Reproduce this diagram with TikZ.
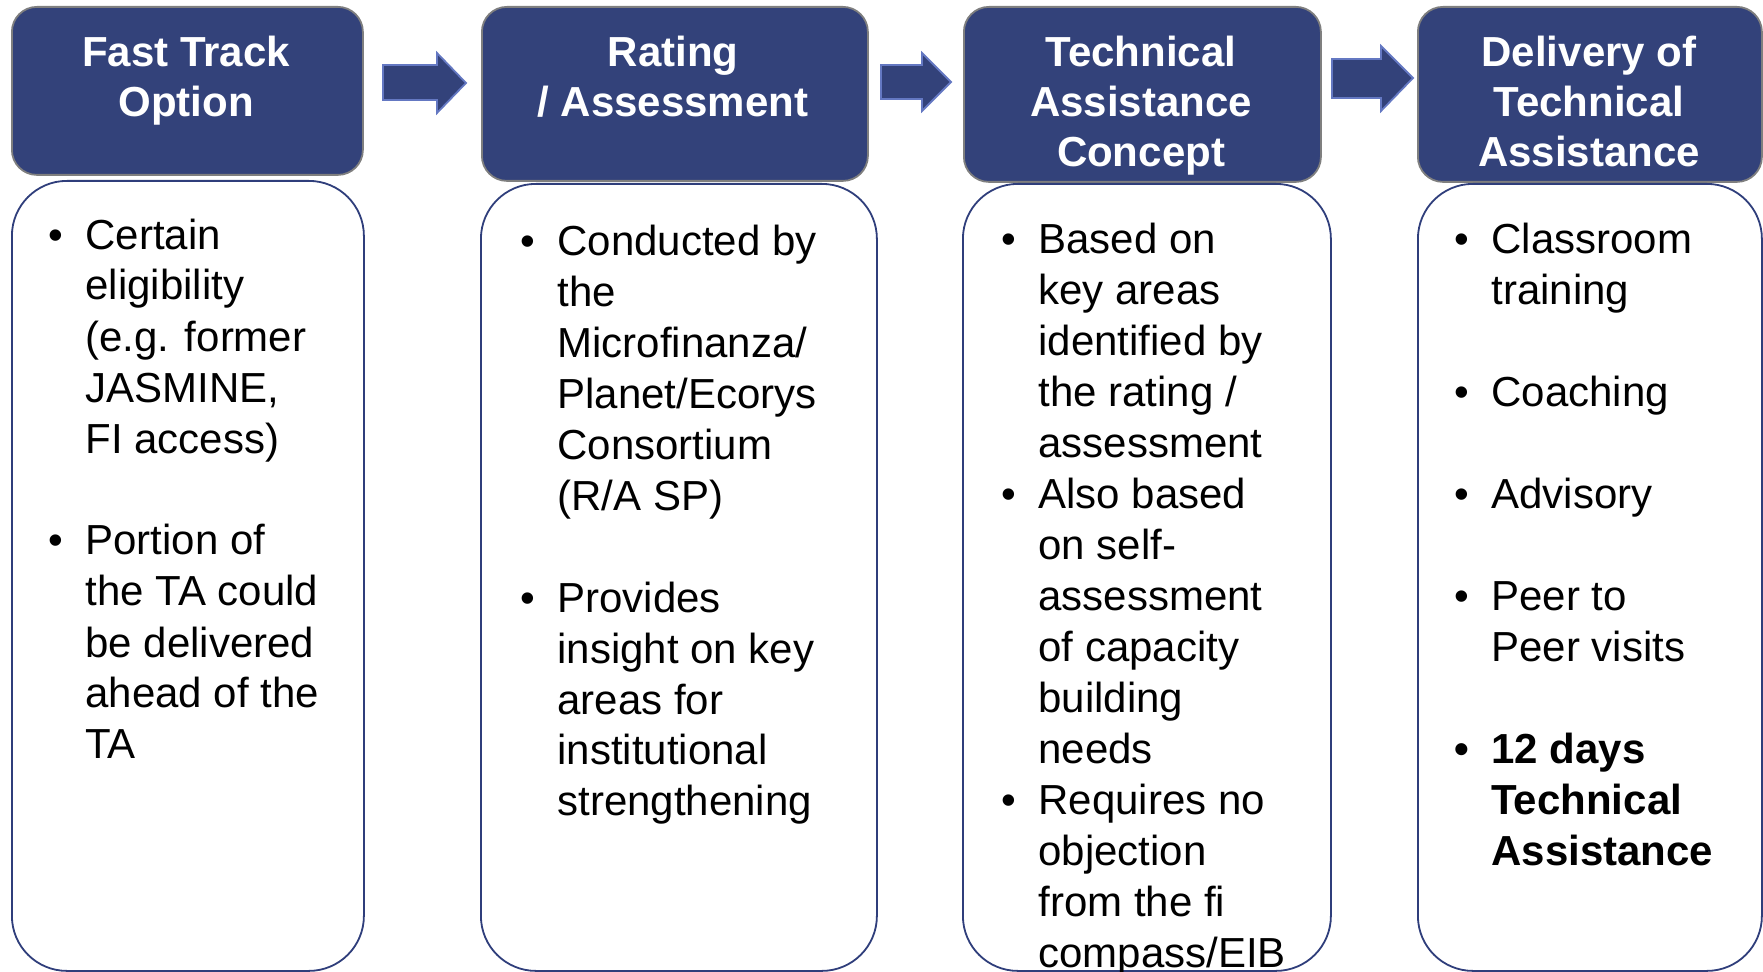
\documentclass[tikz,border=0pt]{standalone}
\usepackage{fontspec}
\setmainfont{Liberation Sans}
\usetikzlibrary{positioning}
\definecolor{tanavy}{HTML}{33427A}
\definecolor{tagray}{HTML}{7F7F7F}
\definecolor{taedge}{HTML}{6478C2}
\definecolor{taline}{HTML}{2F3E7B}
\newcommand{\tabullet}{\llap{\textbullet\hspace{11pt}}}

\begin{document}
\begin{tikzpicture}[
  x=0.5pt, y=-0.5pt,
  head/.style={
    rectangle,
    rounded corners=12.5pt,
    draw=tagray,
    fill=tanavy,
    line width=0.9pt,
    anchor=north west,
    inner sep=0pt
  },
  headtext/.style={
    anchor=base,
    align=center,
    inner sep=0pt,
    text=white,
    font=\fontsize{21}{25}\selectfont\bfseries
  },
  body/.style={
    rectangle,
    rounded corners=27.5pt,
    draw=taline,
    fill=white,
    line width=0.9pt,
    anchor=north west,
    inner sep=0pt
  },
  bodytext/.style={
    anchor=base west,
    align=left,
    inner sep=0pt,
    font=\fontsize{21}{25.5}\selectfont
  },
  flow/.style={fill=tanavy, draw=taedge, line width=0.9pt}
]
  \useasboundingbox (0,0) rectangle (1763,972);

  % Headers
  \node[head, minimum width=175.5pt, minimum height=84pt] (fast) at (11,6) {};
  \node[head, minimum width=193pt, minimum height=87pt] (rating) at (481,6) {};
  \node[head, minimum width=178.5pt, minimum height=87.5pt] (concept) at (963,6) {};
  \node[head, minimum width=172pt, minimum height=87.5pt] (delivery) at (1417,6) {};

  % base = last line
  \node[headtext] (fasttxt) at (186,117) {Fast Track\\Option};
  \node[headtext] (ratingtxt) at (673,117) {Rating\\/ Assessment};
  \node[headtext] (concepttxt) at (1141,167) {Technical\\Assistance\\Concept};
  \node[headtext] (deliverytxt) at (1589,167) {Delivery of\\Technical\\Assistance};

  % Flow arrows
  \draw[flow] (383,65) -- (437,65) -- (437,53) -- (466,83) -- (437,113) -- (437,100) -- (383,100) -- cycle;
  \draw[flow] (881,65) -- (922,65) -- (922,53) -- (951,82) -- (922,111) -- (922,99) -- (881,99) -- cycle;
  \draw[flow] (1332,59) -- (1381,59) -- (1381,46) -- (1413,78) -- (1381,111) -- (1381,98) -- (1332,98) -- cycle;

  % Bodies
  \node[body, minimum width=176pt, minimum height=395pt] (fastbody) at (11,180) {};
  \node[body, minimum width=198pt, minimum height=393.5pt] (ratingbody) at (480,183) {};
  \node[body, minimum width=184pt, minimum height=393.5pt] (conceptbody) at (962,183) {};
  \node[body, minimum width=172pt, minimum height=393.5pt] (deliverybody) at (1417,183) {};

  \node[bodytext] (fastlist) at (85,759) {\tabullet Certain\\eligibility\\(e.g. former\\JASMINE,\\FI access)\\[25.5pt]
    \tabullet Portion of\\the TA could\\be delivered\\ahead of the\\TA};
  \node[bodytext] (ratinglist) at (557,816) {\tabullet Conducted by\\the\\Microfinanza/\\Planet/Ecorys\\Consortium\\(R/A SP)\\[25.5pt]
    \tabullet Provides\\insight on key\\areas for\\institutional\\strengthening};
  \node[bodytext] (conceptlist) at (1038,967) {\tabullet Based on\\key areas\\identified by\\the rating /\\assessment\\
    \tabullet Also based\\on self-\\assessment\\of capacity\\building\\needs\\
    \tabullet Requires no\\objection\\from the fi\\compass/EIB};
  \node[bodytext] (deliverylist) at (1491,865) {\tabullet Classroom\\training\\[25.5pt]
    \tabullet Coaching\\[25.5pt]
    \tabullet Advisory\\[25.5pt]
    \tabullet Peer to\\Peer visits\\[25.5pt]
    \bfseries\tabullet 12 days\\\bfseries Technical\\\bfseries Assistance};
\end{tikzpicture}
\end{document}
